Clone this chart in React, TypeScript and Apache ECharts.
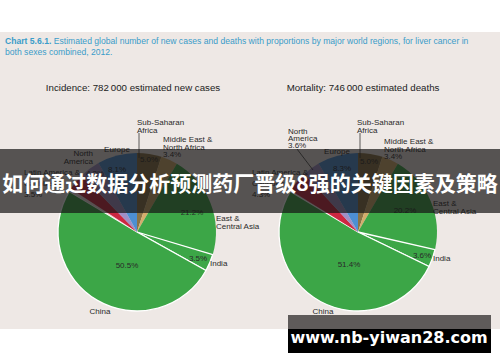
import React, { useEffect, useRef } from "react";
import * as echarts from "echarts";

// ---- data ----
const regions = [
  "Sub-Saharan Africa",
  "Middle East & North Africa",
  "East & Central Asia",
  "India",
  "China",
  "Oceania",
  "Latin America & Caribbean",
  "North America",
  "Europe",
];
const incidence = [5.0, 3.4, 21.2, 3.5, 50.5, 0.6, 3.5, 4.2, 8.1];
const mortality = [5.0, 3.4, 20.2, 3.6, 51.4, 0.2, 4.3, 3.6, 8.3];
const titleBold = "Chart 5.6.1.";
const titleRest1 =
  " Estimated global number of new cases and deaths with proportions by major world regions, for liver cancer in";
const titleRest2 = "both sexes combined, 2012.";
const incidenceTitle = "Incidence: 782\u2009000 estimated new cases";
const mortalityTitle = "Mortality: 746\u2009000 estimated deaths";
const bannerText = "如何通过数据分析预测药厂晋级8强的关键因素及策略";
const watermarkText = "www.nb-yiwan28.com";

// ---- styles ----
const palette = [
  "#8b7446",
  "#d4ad6b",
  "#3ca647",
  "#3ca647",
  "#3ca647",
  "#f3dcdd",
  "#cc2741",
  "#a08fc6",
  "#4d8fd3",
];
const bordered = [false, false, false, true, true, false, false, false, false];
const FONT = "'Liberation Sans', Arial, sans-serif";

type LabelSpec = {
  idx: number;
  kind: "name" | "pct" | "both";
  x: number;
  y: number;
  align: "left" | "center" | "right";
  lh?: number;
};

// label placements (layout only)
const layout1: LabelSpec[] = [
  { idx: 0, kind: "name", x: 137, y: 118, align: "left" },
  { idx: 0, kind: "pct", x: 149, y: 155, align: "center" },
  { idx: 1, kind: "both", x: 163, y: 136, align: "left", lh: 7.5 },
  { idx: 2, kind: "pct", x: 192, y: 208, align: "center" },
  { idx: 2, kind: "name", x: 216, y: 214, align: "left" },
  { idx: 3, kind: "pct", x: 198, y: 254, align: "center" },
  { idx: 3, kind: "name", x: 210, y: 259, align: "left" },
  { idx: 4, kind: "pct", x: 127, y: 261, align: "center" },
  { idx: 4, kind: "name", x: 100, y: 307, align: "center" },
  { idx: 8, kind: "name", x: 117, y: 145, align: "center" },
  { idx: 8, kind: "pct", x: 117, y: 165, align: "center" },
  { idx: 7, kind: "name", x: 93, y: 149, align: "right" },
  { idx: 7, kind: "pct", x: 95, y: 169, align: "center" },
  { idx: 6, kind: "both", x: 24, y: 167, align: "left", lh: 11 },
];
const layout2: LabelSpec[] = [
  { idx: 0, kind: "name", x: 357, y: 118, align: "left" },
  { idx: 0, kind: "pct", x: 369, y: 157, align: "center" },
  { idx: 1, kind: "both", x: 384, y: 138, align: "left", lh: 7.5 },
  { idx: 2, kind: "pct", x: 405, y: 206, align: "center" },
  { idx: 2, kind: "name", x: 433, y: 199, align: "left" },
  { idx: 3, kind: "pct", x: 422, y: 251, align: "center" },
  { idx: 3, kind: "name", x: 433, y: 254, align: "left" },
  { idx: 4, kind: "pct", x: 349, y: 260, align: "center" },
  { idx: 4, kind: "name", x: 323, y: 307, align: "center" },
  { idx: 8, kind: "name", x: 337, y: 147, align: "center" },
  { idx: 8, kind: "pct", x: 342, y: 164, align: "center" },
  { idx: 7, kind: "both", x: 288, y: 128, align: "left", lh: 7 },
  { idx: 6, kind: "both", x: 252, y: 167, align: "left", lh: 11 },
];

function splitName(name: string): string {
  const map: Record<string, string> = {
    "Sub-Saharan Africa": "Sub-Saharan\nAfrica",
    "Middle East & North Africa": "Middle East &\nNorth Africa",
    "East & Central Asia": "East &\nCentral Asia",
    "Latin America & Caribbean": "Latin America &\nCaribbean",
    "North America": "North\nAmerica",
  };
  return map[name] ?? name;
}

function buildLabels(layout: LabelSpec[], values: number[]) {
  return layout.map((l) => {
    const pct = values[l.idx].toFixed(1) + "%";
    const nm = splitName(regions[l.idx]);
    const text = l.kind === "name" ? nm : l.kind === "pct" ? pct : nm + "\n" + pct;
    return {
      type: "text",
      z: 10,
      x: l.x,
      y: l.y,
      style: {
        text,
        font: `8px ${FONT}`,
        fill: "#2a2a2a",
        textAlign: l.align,
        textVerticalAlign: "top",
        lineHeight: l.lh ?? 8,
      },
    };
  });
}

function pieSeries(values: number[], cx: number, name: string) {
  return {
    type: "pie",
    name,
    center: [cx, 232],
    radius: 79,
    startAngle: 90,
    clockwise: true,
    silent: true,
    label: { show: false },
    labelLine: { show: false },
    emphasis: { disabled: true },
    data: regions.map((r, i) => ({
      name: r,
      value: values[i],
      itemStyle: {
        color: palette[i],
        borderColor: "#ffffff",
        borderWidth: bordered[i] ? 1.3 : 0,
      },
    })),
  };
}

export default function App() {
  const ref = useRef<HTMLDivElement>(null);
  useEffect(() => {
    if (!ref.current) return;
    const chart = echarts.init(ref.current, undefined, { renderer: "svg" });
    chart.setOption({
      animation: false,
      backgroundColor: "#ffffff",
      series: [pieSeries(incidence, 137, "Incidence"), pieSeries(mortality, 358, "Mortality")],
      graphic: [
        { type: "rect", z: -5, shape: { x: 0, y: 32, width: 500, height: 297 }, style: { fill: "#eee8e5" } },
        {
          type: "text",
          z: 10,
          x: 5,
          y: 41,
          style: {
            text: `{b|${titleBold}}{n|${titleRest1}}`,
            textVerticalAlign: "middle",
            rich: {
              b: { font: `bold 8.6px ${FONT}`, fill: "#3a9cc9" },
              n: { font: `8.6px ${FONT}`, fill: "#3a9cc9" },
            },
          },
        },
        {
          type: "text",
          z: 10,
          x: 5,
          y: 52,
          style: { text: titleRest2, font: `8.6px ${FONT}`, fill: "#3a9cc9", textVerticalAlign: "middle" },
        },
        {
          type: "text",
          z: 10,
          x: 133,
          y: 87,
          style: { text: incidenceTitle, font: `9.7px ${FONT}`, fill: "#222", textAlign: "center", textVerticalAlign: "middle" },
        },
        {
          type: "text",
          z: 10,
          x: 363,
          y: 87,
          style: { text: mortalityTitle, font: `9.7px ${FONT}`, fill: "#222", textAlign: "center", textVerticalAlign: "middle" },
        },
        ...buildLabels(layout1, incidence),
        ...buildLabels(layout2, mortality),
        { type: "line", z: 10, shape: { x1: 139, y1: 133, x2: 139, y2: 158 }, style: { stroke: "#333", lineWidth: 0.8 } },
        { type: "line", z: 10, shape: { x1: 360, y1: 133, x2: 360, y2: 158 }, style: { stroke: "#333", lineWidth: 0.8 } },
        { type: "line", z: 10, shape: { x1: 297, y1: 149, x2: 313, y2: 170 }, style: { stroke: "#333", lineWidth: 0.8 } },
        { type: "rect", z: 50, shape: { x: 0, y: 149, width: 500, height: 64 }, style: { fill: "rgba(22,20,20,0.7)" } },
        {
          type: "text",
          z: 51,
          x: 250,
          y: 182,
          style: {
            text: bannerText,
            font: `bold 21px 'Noto Sans CJK SC', sans-serif`,
            fill: "#ffffff",
            textAlign: "center",
            textVerticalAlign: "middle",
          },
        },
        { type: "rect", z: 60, shape: { x: 288, y: 315, width: 203, height: 14 }, style: { fill: "#5f5b5a" } },
        { type: "rect", z: 60, shape: { x: 288, y: 329, width: 203, height: 24 }, style: { fill: "#000000" } },
        {
          type: "text",
          z: 61,
          x: 389,
          y: 337,
          style: {
            text: watermarkText,
            font: `bold 16px 'DejaVu Sans', sans-serif`,
            fill: "#ffffff",
            textAlign: "center",
            textVerticalAlign: "middle",
          },
        },
      ],
    });
    return () => chart.dispose();
  }, []);
  return (
    <div
      ref={ref}
      style={{ position: "fixed", left: 0, top: 0, width: 500, height: 362 }}
    />
  );
}
